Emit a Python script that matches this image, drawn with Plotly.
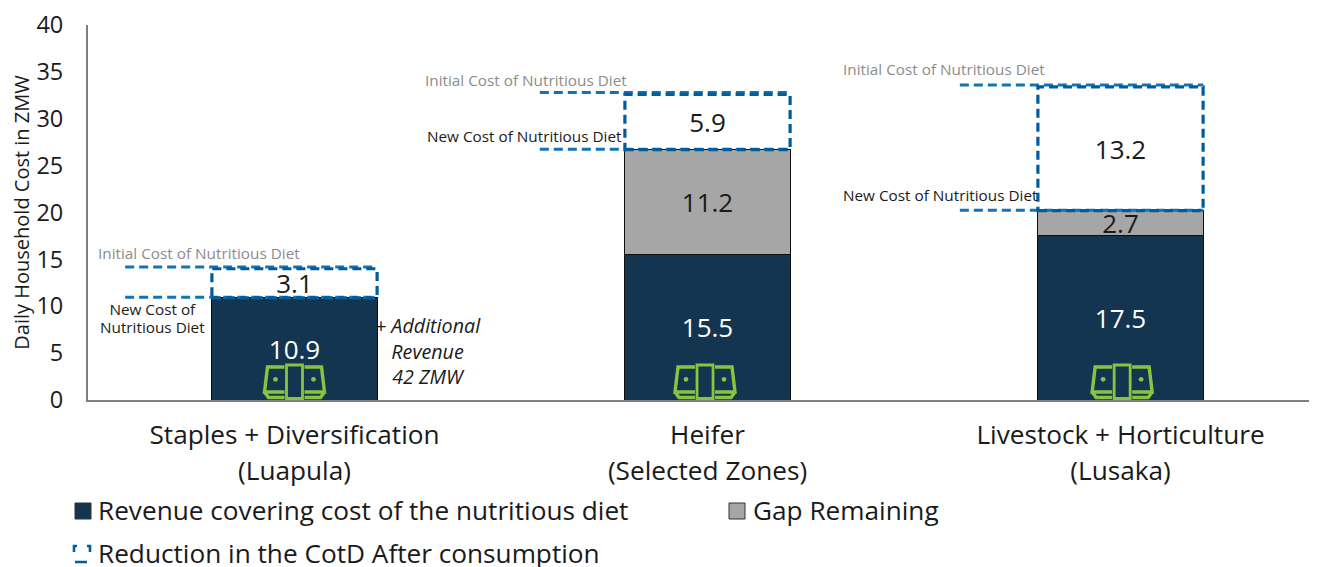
import plotly.graph_objects as go

categories = ["Staples + Diversification", "Heifer", "Livestock + Horticulture"]
regions = ["(Luapula)", "(Selected Zones)", "(Lusaka)"]
revenue = [10.9, 15.5, 17.5]
gap = [0, 11.2, 2.7]
reduction = [3.1, 5.9, 13.2]
y_ticks = [0, 5, 10, 15, 20, 25, 30, 35, 40]

# The page keeps an 8px body margin, so the figure starts at (8, 8) in the window.
PAGE = 8
W, H = 1317 - PAGE, 567 - PAGE
AX_LEFT, AX_TOP, AX_BOTTOM = 88, 25, 400
L, T, B = AX_LEFT - PAGE, AX_TOP - PAGE, H - (AX_BOTTOM - PAGE)
NAVY, GREY, BOX, LEADER, GREEN, INK = "#133550", "#a6a6a6", "#005c9c", "#1274b6", "#86c540", "#1a1a1a"
FONT = "Open Sans"
BAR_W = 0.4
LEADER_LEFT = [-0.41, -0.406, -0.389]
LEADER_LIFT_TOP, LEADER_LIFT_LOW = 0.2, 0.05
ICON_SHIFT = [0, -0.006, 0.004]


def px(x):
    return (x - AX_LEFT) / (W + PAGE - AX_LEFT)


def py(y):
    return (AX_BOTTOM - y) / (AX_BOTTOM - AX_TOP)


def stack_text(vals):
    return [f"{v:.1f}" if v else "" for v in vals]


fig = go.Figure()
x_idx = list(range(len(categories)))
common = dict(x=x_idx, width=BAR_W, textposition="inside", insidetextanchor="middle",
              constraintext="none", textangle=0, showlegend=False, hoverinfo="skip")
VAL = 26
fig.add_bar(y=revenue, name="Revenue covering cost of the nutritious diet", text=stack_text(revenue),
            marker=dict(color=NAVY, line=dict(color="#0d0d0d", width=1)),
            textfont=dict(family=FONT, size=VAL, color="white"), **common)
fig.add_bar(y=gap, name="Gap Remaining", text=stack_text(gap),
            marker=dict(color=GREY, line=dict(color="#0d0d0d", width=1)),
            textfont=dict(family=FONT, size=VAL, color=INK), **common)
fig.add_bar(y=reduction, name="Reduction in the CotD After consumption", text=stack_text(reduction),
            marker=dict(color="rgba(0,0,0,0)", line=dict(width=0)),
            textfont=dict(family=FONT, size=VAL, color=INK), **common)

shapes, annotations = [], []
DASH = "9px,5px"
for i in x_idx:
    lo = revenue[i] + gap[i]
    hi = lo + reduction[i]
    for yv in (lo + LEADER_LIFT_LOW, hi + LEADER_LIFT_TOP):
        shapes.append(dict(type="line", xref="x", yref="y", x0=i + LEADER_LEFT[i], x1=i + BAR_W / 2, y0=yv, y1=yv,
                           line=dict(color=LEADER, width=3, dash=DASH), layer="above"))
    shapes.append(dict(type="rect", xref="x", yref="y", x0=i - BAR_W / 2, x1=i + BAR_W / 2, y0=lo, y1=hi,
                       line=dict(color=BOX, width=3.2, dash=DASH), fillcolor="rgba(0,0,0,0)", layer="above"))

    # banknote icon, drawn in pixels around the foot of each bar
    anchor = dict(xref="x", yref="y", xsizemode="pixel", ysizemode="pixel",
                  xanchor=i + ICON_SHIFT[i], yanchor=0, layer="above")
    line = dict(color=GREEN, width=3.4)
    for s in (-1, 1):
        p = (f"M {s*10},33 L {s*27},33 L {s*30},8 L {s*10},8 "
             f"M {s*30},8 L {s*26},2.5 L {s*10},2.5")
        shapes.append(dict(type="path", path=p, line=line, fillcolor="rgba(0,0,0,0)", **anchor))
        shapes.append(dict(type="circle", x0=s*19 - 2.4, x1=s*19 + 2.4, y0=18.3, y1=23.1,
                           line=dict(color=GREEN, width=0), fillcolor=GREEN, **anchor))
    shapes.append(dict(type="rect", x0=-8, x1=8, y0=1.5, y1=35, line=dict(color=GREEN, width=2.8), fillcolor=NAVY, **anchor))


def note(x, y, text, size=15.3, color=INK, anchor="left", italic=False, leading=None):
    base = leading or size
    body = f'<span style="font-size:{size}px">{text}</span>' if leading else text
    annotations.append(dict(xref="paper", yref="paper", x=px(x), y=py(y - 1), text=body, showarrow=False,
                            xanchor=anchor, yanchor="middle", align=anchor, borderpad=0, borderwidth=0,
                            font=dict(family=FONT, size=base, color=color,
                                      style="italic" if italic else "normal")))


note(98, 254, "Initial Cost of Nutritious Diet", color="#8c8c8c")
note(425, 81, "Initial Cost of Nutritious Diet", color="#8c8c8c")
note(843, 70, "Initial Cost of Nutritious Diet", color="#8c8c8c")
note(427, 137, "New Cost of Nutritious Diet")
note(843, 196, "New Cost of Nutritious Diet")
note(152, 319, "New Cost of<br>Nutritious Diet", anchor="center", leading=14)
note(428, 352, "+ Additional<br>Revenue<br>42 ZMW", size=19.7, anchor="center", italic=True)

# legend key
LEG = 26.2
note(97.5, 511, "Revenue covering cost of the nutritious diet", size=LEG)
note(753, 511, "Gap Remaining", size=LEG)
note(97.5, 554, "Reduction in the CotD After consumption", size=LEG)
for x0, col in ((75, NAVY), (729, GREY)):
    shapes.append(dict(type="rect", xref="paper", yref="paper", x0=px(x0), x1=px(x0 + 16), y0=py(519), y1=py(503),
                       fillcolor=col, line=dict(color="#333333", width=1)))
shapes.append(dict(type="path", xref="paper", yref="paper",
                   path=f"M {px(74)},{py(552)} L {px(74)},{py(546)} L {px(77)},{py(546)} "
                        f"M {px(87)},{py(546)} L {px(90)},{py(546)} L {px(90)},{py(552)} "
                        f"M {px(75)},{py(562)} L {px(87)},{py(562)}",
                   line=dict(color=BOX, width=2.6)))

tick_text = [f'<span style="font-size:26.2px">{c}<br>{r}</span>' for c, r in zip(categories, regions)]

fig.update_layout(
    width=W, height=H, autosize=False, barmode="stack", bargap=0.6,
    margin=dict(l=L, r=0, t=T, b=B, pad=0),
    paper_bgcolor="white", plot_bgcolor="white", showlegend=False,
    font=dict(family=FONT, color=INK),
    shapes=shapes, annotations=annotations,
    xaxis=dict(range=[-0.5, (W + PAGE - AX_LEFT) / 413 - 0.5], tickvals=x_idx, ticktext=tick_text,
               tickfont=dict(family=FONT, size=27, color=INK), showgrid=False, zeroline=False,
               showline=True, linecolor="#7f7f7f", linewidth=2, ticks="", ticklabelstandoff=10),
    yaxis=dict(range=[0, 40], tickvals=y_ticks, tickfont=dict(family=FONT, size=23.5, color=INK),
               showgrid=False, zeroline=False, showline=True, linecolor="#7f7f7f", linewidth=2,
               ticks="", ticklabelstandoff=18, ticklabeloverflow="allow",
               title=dict(text="Daily Household Cost in ZMW", font=dict(family=FONT, size=20, color=INK), standoff=10)),
)

fig.write_html("out.html")
